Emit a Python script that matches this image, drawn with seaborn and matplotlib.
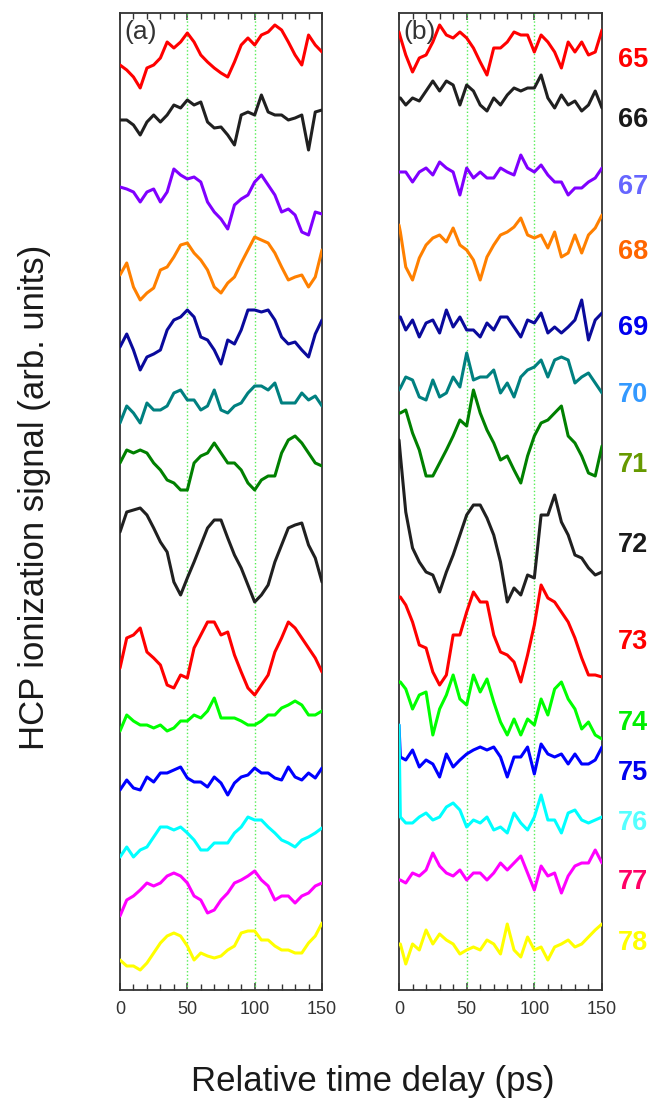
import matplotlib
matplotlib.use("Agg")
import matplotlib.pyplot as plt
from matplotlib.ticker import MultipleLocator
import pandas as pd
import seaborn as sns

# Harmonic orders and their colours
harmonics = [65, 66, 67, 68, 69, 70, 71, 72, 73, 74, 75, 76, 77, 78]
trace_colors = ["#ff0000", "#202020", "#8000ff", "#ff8000", "#0a0a9c", "#008080",
                "#008000", "#202020", "#ff0000", "#00ff00", "#0000ff", "#00ffff",
                "#ff00ff", "#ffff00"]
label_colors = ["#ff0000", "#1a1a1a", "#6666ff", "#ff6600", "#0000ee", "#3399ff",
                "#669900", "#1a1a1a", "#ff0000", "#00ee00", "#0000ee", "#55ffff",
                "#ff0066", "#ffff00"]

# Delay sampling (ps)
times_a = list(range(0, 155, 5))
times_b = [0, 1] + list(range(5, 155, 5))

# Vertical offsets of the stacked traces (arb. units)
offsets_a = [925, 870, 798, 715, 643, 587, 527, 445, 335, 272, 210, 150, 97, 37]
offsets_b = [945, 892, 815, 750, 665, 610, 547, 445, 355, 288, 233, 170, 117, 43]

# Panel (a) signals
a65 = [0, -5, -12, -23, -3, 0, 7, 23, 17, 23, 32, 23, 10, 3, -3, -8, -12, 3, 20, 27, 20, 30, 33, 40, 35, 23, 10, 0, 30, 20, 13]
a66 = [0, 0, -5, -15, -2, 5, -2, 5, 15, 12, 20, 15, 18, -2, -8, -7, -15, -25, 5, 8, 5, 25, 8, 5, 5, 0, 2, 5, -30, 8, 10]
a67 = [5, 3, 0, -10, 0, 3, -10, 0, 23, 17, 13, 15, 10, -10, -20, -27, -37, -13, -7, -3, 10, 17, 7, -3, -20, -17, -23, -40, -43, -20, -22]
a68 = [0, 12, -12, -25, -18, -13, 5, 8, 18, 30, 32, 22, 15, 5, -12, -18, -8, -2, 12, 25, 38, 35, 32, 22, 8, -5, -2, 0, -12, -2, 25]
a69 = [0, 13, -3, -23, -10, -7, -3, 17, 27, 30, 37, 30, 10, 7, -3, -17, 7, 3, 17, 37, 37, 35, 37, 27, 10, 3, 5, -3, -10, 13, 27]
a70 = [-20, -3, -10, -20, 0, -7, -7, -3, 10, 13, 3, 3, -7, -3, 13, -7, -10, -3, 0, 10, 17, 17, 13, 20, 0, 0, 0, 10, 3, 7, -3]
a71 = [0, 13, 10, 13, 10, 0, -7, -17, -20, -27, -27, 0, 7, 10, 20, 10, 0, 0, -7, -20, -27, -17, -13, -13, 10, 23, 27, 20, 10, 0, -3]
a72 = [13, 33, 35, 37, 30, 17, 3, -7, -37, -50, -33, -17, 0, 17, 25, 25, 7, -10, -23, -40, -57, -50, -40, -17, 0, 17, 20, 22, 0, -13, -37]
a73 = [-13, 17, 20, 27, 3, -3, -10, -30, -33, -20, -23, 7, 20, 33, 33, 20, 23, 0, -17, -33, -40, -30, -20, 3, 17, 33, 27, 17, 7, -3, -17]
a74 = [-13, 3, -3, -7, -7, -10, -7, -13, -10, -3, -3, 3, 0, 7, 20, 0, 0, 0, -3, -7, -7, -3, 3, 3, 10, 13, 17, 13, 3, 3, 7]
a75 = [-10, 0, -8, -10, 3, -2, 7, 7, 10, 13, 2, -2, -2, -7, 3, -3, -15, -3, 3, 5, 12, 7, 7, 2, 0, 13, 3, 0, 7, 2, 12]
a76 = [-17, -7, -17, -10, -7, 3, 13, 13, 10, 13, 7, 0, -10, -10, -3, -3, -3, 7, 13, 23, 20, 20, 13, 7, 0, -3, -7, 0, 3, 7, 12]
a77 = [-23, -7, -3, 3, 10, 7, 10, 17, 20, 17, 10, -3, -7, -20, -17, -7, 0, 10, 13, 17, 22, 13, 7, -7, -3, -3, -10, -3, 0, 7, 10]
a78 = [-7, -13, -13, -17, -10, 0, 10, 17, 20, 17, 7, -7, 0, -3, -5, -3, 3, 7, 20, 22, 22, 13, 13, 7, 3, 3, 0, 0, 10, 17, 30]

# Panel (b) signals
b65 = [13, 8, -10, -27, -13, -10, 3, 20, 10, 7, 13, 7, -3, -17, -30, -3, -3, 3, 13, 10, 10, -7, 10, 3, -7, -23, 3, -7, 3, -10, -7, 15]
b66 = [0, 0, -7, 0, -3, 7, 17, 7, 17, 13, -7, 13, 7, -7, -13, 0, -7, 3, 10, 7, 10, 10, 23, 0, -10, 3, -7, -3, -13, -7, 7, -10]
b67 = [3, 3, 3, -7, 3, 7, 0, 13, 7, 3, -20, 7, -3, 3, -3, -3, 7, 3, 0, 20, 7, 3, 10, 0, -7, -7, -20, -13, -13, -7, -3, 7]
b68 = [15, 8, -27, -40, -18, -5, 2, 5, -2, 12, -5, -10, -20, -40, -17, -5, 5, 8, 13, 22, 5, 2, 5, -8, 8, -17, -13, 5, -13, 5, 12, 25]
b69 = [8, 8, -5, 5, -12, 2, 5, -8, 15, -2, 8, -5, -5, -12, 2, -5, 8, 8, -2, -12, 5, 2, 12, -8, -2, -8, -2, 5, 25, -15, 5, 12]
b70 = [-10, -8, 3, 0, -17, -20, 0, -17, -13, 3, -7, 27, 0, 3, 3, 10, -13, -3, -17, 3, 10, 13, 20, 3, 20, 23, 20, -3, 3, 7, -3, -13]
b71 = [30, 30, 33, 10, -7, -33, -33, -20, -7, 7, 23, 17, 53, 30, 13, 0, -17, -13, -27, -40, -13, 7, 20, 23, 30, 37, 7, 0, -13, -30, -33, -3]
b72 = [105, 90, 33, -3, -17, -27, -30, -47, -27, -10, 10, 30, 40, 40, 27, 10, -17, -57, -43, -50, -30, -33, 30, 30, 50, 23, 10, -10, -13, -23, -30, -27]
b73 = [38, 38, 30, 13, -10, -13, -37, -50, -40, 0, 0, 23, 43, 33, 33, 0, -17, -20, -27, -47, -20, 10, 50, 37, 33, 23, 13, -3, -23, -40, -40, -42]
b74 = [20, 20, 13, -7, 7, 10, -33, -7, 7, 27, 3, -3, 27, 10, 23, 0, -20, -33, -17, -33, -17, -23, 3, -13, 13, 20, 3, -7, -27, -20, -33, -37]
b75 = [32, 0, -3, 7, -10, -3, -7, -20, 3, -10, -3, 3, 7, 10, 7, 10, 0, -20, 0, 0, 10, -17, 13, 3, 0, 3, -7, 3, -7, -7, -3, 10]
b76 = [95, 3, -3, -3, 3, 7, 0, 3, 13, 17, 10, -7, 0, -3, 3, -10, -7, -13, 7, -3, -10, 3, 25, 0, 0, -13, 7, 10, 0, -3, 0, 3]
b77 = [-7, -7, -10, 0, -3, 3, 20, 7, 0, -3, 3, -7, 0, 0, -7, 0, 10, 3, 10, 17, 0, -17, 7, -3, 0, -20, -3, 7, 10, 10, 23, 10]
b78 = [3, 3, -17, 3, -3, 17, 3, 13, 7, 3, -7, -3, 0, -3, 7, 3, -7, 23, -3, -10, 10, -3, 0, -13, 0, 3, 7, 0, 3, 10, 17, 23]

traces_a = [a65, a66, a67, a68, a69, a70, a71, a72, a73, a74, a75, a76, a77, a78]
traces_b = [b65, b66, b67, b68, b69, b70, b71, b72, b73, b74, b75, b76, b77, b78]

# Heights of the harmonic labels beside panel (b)
label_heights = [930, 870, 803, 738, 662, 595, 525, 445, 348, 267, 217, 167, 108, 47]


def long_frame(times, offsets, traces):
    rows = []
    for h, off, vals in zip(harmonics, offsets, traces):
        for t, v in zip(times, vals):
            rows.append((h, t, off + v))
    return pd.DataFrame(rows, columns=["harmonic", "delay", "signal"])


sns.set_theme(style="white")
plt.rcParams["font.family"] = ["Liberation Sans", "DejaVu Sans"]

fig = plt.figure(figsize=(6.52, 11.0), dpi=100)
ax_a = fig.add_axes([120 / 652, 0.1, 202 / 652, 977 / 1100])
ax_b = fig.add_axes([399 / 652, 0.1, 203 / 652, 977 / 1100])

palette = dict(zip(harmonics, trace_colors))
frame_color = "#333333"

for ax, times, offsets, traces, tag in [
    (ax_a, times_a, offsets_a, traces_a, "(a)"),
    (ax_b, times_b, offsets_b, traces_b, "(b)"),
]:
    for x in (50, 100):
        ax.axvline(x, color="#55ee55", lw=1.0, ls=(0, (1, 1.6)), zorder=1)
    df = long_frame(times, offsets, traces)
    sns.lineplot(data=df, x="delay", y="signal", hue="harmonic", palette=palette,
                 estimator=None, legend=False, linewidth=2.2, ax=ax, zorder=3)
    ax.set_xlim(0, 150)
    ax.set_ylim(0, 977)
    ax.set_yticks([])
    ax.set_xticks([0, 50, 100, 150])
    ax.xaxis.set_minor_locator(MultipleLocator(10))
    ax.tick_params(axis="x", which="both", direction="in", top=True, bottom=True,
                   colors=frame_color, labelsize=13, pad=8)
    ax.tick_params(axis="x", which="major", length=5, width=1.1)
    ax.tick_params(axis="x", which="minor", length=4, width=1.0)
    ax.set_xlabel("")
    ax.set_ylabel("")
    for s in ax.spines.values():
        s.set_color(frame_color)
        s.set_linewidth(1.3)
    ax.text(0.02, 0.993, tag, transform=ax.transAxes, ha="left", va="top",
            fontsize=19, color=frame_color)

for h, yh, c in zip(harmonics, label_heights, label_colors):
    ax_b.text(162, yh, str(h), ha="left", va="center", fontsize=19.5,
              fontweight="bold", color=c, clip_on=False)

fig.text(35 / 652, 1 - 497 / 1100, "HCP ionization signal (arb. units)",
         rotation=90, ha="center", va="center", fontsize=25, color="#1a1a1a")
fig.text(373 / 652, 1 - 1082 / 1100, "Relative time delay (ps)",
         ha="center", va="center", fontsize=25, color="#1a1a1a")

fig.savefig("out.png", dpi=100)
